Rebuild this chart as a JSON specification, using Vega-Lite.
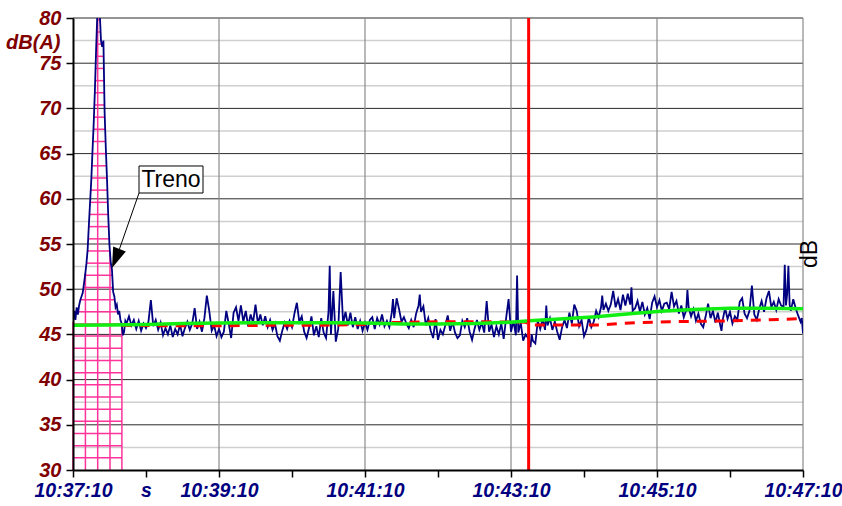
{
  "$schema": "https://vega.github.io/schema/vega-lite/v6.json",
  "width": 730,
  "height": 452,
  "autosize": {"type": "none"},
  "padding": {"left": 73, "top": 18, "right": 39, "bottom": 36},
  "background": "white",
  "config": {"view": {"stroke": null}, "font": "Liberation Sans"},
  "datasets": {
    "minor": [{"v":32.5},{"v":37.5},{"v":42.5},{"v":47.5},{"v":52.5},{"v":57.5},{"v":62.5},{"v":67.5},{"v":72.5},{"v":77.5}],
    "major": [{"v":35},{"v":40},{"v":45},{"v":50},{"v":55},{"v":60},{"v":65},{"v":70},{"v":75},{"v":80}],
    "vgrid": [{"t":120},{"t":240},{"t":360},{"t":480},{"t":600}],
    "pinkv": [{"t":0,"v0":30,"v1":46.4},{"t":10.2,"v0":30,"v1":51.8},{"t":20.3,"v0":30,"v1":80},{"t":30.4,"v0":30,"v1":54.1},{"t":40.2,"v0":30,"v1":46.0}],
    "pinkh": [
      {"v":31.35,"t0":0,"t1":40.2},{"v":32.69,"t0":0,"t1":40.2},{"v":34.04,"t0":0,"t1":40.2},{"v":35.38,"t0":0,"t1":40.2},
      {"v":36.73,"t0":0,"t1":40.2},{"v":38.08,"t0":0,"t1":40.2},{"v":39.42,"t0":0,"t1":40.2},{"v":40.77,"t0":0,"t1":40.2},
      {"v":42.11,"t0":0,"t1":40.2},{"v":43.46,"t0":0,"t1":40.2},{"v":44.81,"t0":0,"t1":40.2},{"v":46.15,"t0":0,"t1":40.2},
      {"v":47.5,"t0":0.9,"t1":38.1},{"v":48.84,"t0":6.1,"t1":34.3},{"v":50.19,"t0":8.6,"t1":32.8},{"v":51.54,"t0":9.94,"t1":32.26},
      {"v":52.88,"t0":11.05,"t1":31.15},{"v":54.23,"t0":11.95,"t1":30.32},{"v":55.57,"t0":12.47,"t1":29.76},{"v":56.92,"t0":12.97,"t1":29.34},
      {"v":58.27,"t0":13.51,"t1":28.93},{"v":59.61,"t0":14.04,"t1":28.6},{"v":60.96,"t0":14.58,"t1":28.26},{"v":62.3,"t0":15.09,"t1":27.91},
      {"v":63.65,"t0":15.52,"t1":27.53},{"v":65.0,"t0":15.94,"t1":27.14},{"v":66.34,"t0":16.37,"t1":26.79},{"v":67.69,"t0":16.8,"t1":26.45},
      {"v":69.03,"t0":17.2,"t1":26.12},{"v":70.38,"t0":17.56,"t1":25.89},{"v":71.73,"t0":17.93,"t1":25.72},{"v":73.07,"t0":18.24,"t1":25.55},
      {"v":74.42,"t0":18.54,"t1":25.39},{"v":75.76,"t0":18.84,"t1":25.22},{"v":77.11,"t0":19.15,"t1":25.05},{"v":78.45,"t0":19.49,"t1":22.68},
      {"v":79.8,"t0":19.83,"t1":22.23}
    ],
    "blue": [
      {"t":0,"v":46.4},{"t":1,"v":47.6},{"t":2,"v":46.6},{"t":3,"v":48.0},{"t":4,"v":47.2},{"t":5,"v":48.2},{"t":6,"v":48.8},{"t":7,"v":49.2},{"t":8,"v":49.6},{"t":9,"v":50.6},
      {"t":10,"v":51.6},{"t":11,"v":52.8},{"t":12,"v":54.3},{"t":13,"v":57.0},{"t":14,"v":59.5},{"t":15,"v":62.0},{"t":16,"v":65.2},{"t":17,"v":68.3},{"t":18,"v":72.0},{"t":19,"v":76.5},
      {"t":20,"v":80.5},{"t":21,"v":83.0},{"t":22,"v":80.5},{"t":23,"v":77.5},{"t":24,"v":76.8},{"t":25,"v":77.5},{"t":26,"v":69.5},{"t":27,"v":65.5},{"t":28,"v":62.0},{"t":29,"v":58.0},
      {"t":30,"v":54.8},{"t":31,"v":53.0},{"t":32,"v":52.2},{"t":33,"v":49.7},{"t":34,"v":49.2},{"t":35,"v":48.0},{"t":36,"v":48.3},{"t":37,"v":47.2},{"t":38,"v":47.6},{"t":39,"v":46.6},
      {"t":40,"v":46.2},{"t":41,"v":44.9},{"t":42,"v":45.3},{"t":43,"v":46.5},
      {"t":44,"v":46.2},{"t":46,"v":47.0},{"t":48,"v":46.0},{"t":50,"v":46.6},{"t":52,"v":45.6},{"t":54,"v":46.5},{"t":56,"v":45.4},{"t":58,"v":46.2},{"t":60,"v":45.7},{"t":62,"v":46.4},
      {"t":64,"v":48.8},{"t":66,"v":45.9},{"t":68,"v":46.6},{"t":70,"v":45.5},{"t":72,"v":46.3},{"t":74,"v":44.9},{"t":76,"v":45.7},{"t":78,"v":45.0},{"t":80,"v":46.0},{"t":82,"v":44.7},
      {"t":84,"v":45.6},{"t":86,"v":45.0},{"t":88,"v":46.1},{"t":90,"v":44.8},{"t":92,"v":45.7},{"t":94,"v":46.4},{"t":96,"v":45.5},{"t":98,"v":46.2},{"t":100,"v":47.9},{"t":102,"v":45.6},
      {"t":104,"v":46.4},{"t":106,"v":45.3},{"t":108,"v":46.8},{"t":110,"v":49.3},{"t":112,"v":47.6},{"t":114,"v":45.4},{"t":116,"v":46.0},{"t":118,"v":44.8},{"t":120,"v":45.6},{"t":122,"v":44.7},
      {"t":124,"v":45.3},{"t":126,"v":47.6},{"t":128,"v":46.2},{"t":130,"v":44.6},{"t":132,"v":47.4},{"t":134,"v":48.0},{"t":136,"v":46.5},{"t":138,"v":48.2},{"t":140,"v":46.4},{"t":142,"v":47.6},
      {"t":144,"v":45.9},{"t":146,"v":47.2},{"t":148,"v":46.3},{"t":150,"v":48.3},{"t":152,"v":46.2},{"t":154,"v":47.2},{"t":156,"v":46.0},{"t":158,"v":47.0},{"t":160,"v":45.8},{"t":162,"v":46.6},
      {"t":164,"v":45.5},{"t":166,"v":46.2},{"t":168,"v":44.8},{"t":170,"v":44.3},{"t":172,"v":45.4},{"t":174,"v":46.3},{"t":176,"v":45.6},{"t":178,"v":46.5},{"t":180,"v":45.8},{"t":182,"v":47.3},
      {"t":184,"v":48.5},{"t":186,"v":46.4},{"t":188,"v":47.0},{"t":190,"v":45.3},{"t":192,"v":44.6},{"t":194,"v":45.7},{"t":196,"v":47.0},{"t":198,"v":44.9},{"t":200,"v":45.9},{"t":202,"v":44.7},
      {"t":204,"v":46.8},{"t":206,"v":45.2},{"t":208,"v":44.6},{"t":210,"v":47.5},{"t":211,"v":52.6},{"t":212,"v":45.0},{"t":214,"v":49.8},{"t":216,"v":44.2},{"t":218,"v":45.6},{"t":220,"v":51.9},
      {"t":222,"v":46.2},{"t":224,"v":47.5},{"t":226,"v":46.0},{"t":228,"v":47.4},{"t":230,"v":45.8},{"t":232,"v":46.9},{"t":234,"v":45.6},{"t":236,"v":46.5},{"t":238,"v":45.4},{"t":240,"v":46.3},
      {"t":242,"v":45.5},{"t":244,"v":46.6},{"t":246,"v":46.9},{"t":248,"v":45.6},{"t":250,"v":46.8},{"t":252,"v":46.1},{"t":254,"v":47.2},{"t":256,"v":45.9},{"t":258,"v":46.5},{"t":260,"v":45.8},
      {"t":262,"v":47.4},{"t":263,"v":48.9},{"t":264,"v":46.8},{"t":266,"v":49.0},{"t":268,"v":47.8},{"t":270,"v":46.4},{"t":272,"v":46.9},{"t":274,"v":46.2},{"t":276,"v":45.7},{"t":278,"v":46.6},
      {"t":280,"v":45.8},{"t":282,"v":47.3},{"t":284,"v":48.2},{"t":285,"v":49.4},{"t":286,"v":47.5},{"t":288,"v":48.1},{"t":290,"v":46.0},{"t":292,"v":46.8},{"t":294,"v":45.4},{"t":296,"v":44.6},
      {"t":298,"v":46.7},{"t":300,"v":44.4},{"t":302,"v":45.5},{"t":304,"v":45.0},{"t":306,"v":46.0},{"t":308,"v":47.1},{"t":310,"v":45.4},{"t":312,"v":46.4},{"t":314,"v":45.2},{"t":316,"v":44.6},
      {"t":318,"v":44.9},{"t":320,"v":46.5},{"t":322,"v":45.8},{"t":324,"v":46.8},{"t":326,"v":45.3},{"t":328,"v":44.4},{"t":330,"v":45.6},{"t":332,"v":46.6},{"t":334,"v":45.5},{"t":336,"v":46.3},
      {"t":338,"v":45.2},{"t":340,"v":48.7},{"t":342,"v":45.3},{"t":344,"v":46.1},{"t":346,"v":44.7},{"t":348,"v":45.9},{"t":350,"v":45.0},{"t":352,"v":46.2},{"t":354,"v":44.5},{"t":356,"v":46.8},
      {"t":358,"v":48.9},{"t":360,"v":45.3},{"t":362,"v":46.5},{"t":364,"v":44.9},{"t":365,"v":51.5},{"t":366,"v":45.2},{"t":368,"v":46.3},{"t":370,"v":44.3},{"t":372,"v":45.0},{"t":374,"v":44.6},
      {"t":376,"v":43.6},{"t":377,"v":45.0},{"t":378,"v":44.3},{"t":380,"v":44.0},{"t":382,"v":46.5},{"t":384,"v":45.6},{"t":386,"v":46.7},{"t":388,"v":45.5},{"t":389,"v":48.2},{"t":390,"v":46.0},
      {"t":392,"v":46.8},{"t":394,"v":45.5},{"t":396,"v":46.4},{"t":398,"v":45.3},{"t":400,"v":44.4},{"t":402,"v":45.8},{"t":404,"v":46.6},{"t":406,"v":45.7},{"t":408,"v":47.4},{"t":410,"v":46.2},
      {"t":412,"v":48.3},{"t":414,"v":47.6},{"t":416,"v":45.9},{"t":418,"v":46.6},{"t":420,"v":44.8},{"t":422,"v":45.5},{"t":424,"v":46.9},{"t":426,"v":45.8},{"t":428,"v":46.4},{"t":430,"v":47.6},
      {"t":432,"v":46.9},{"t":434,"v":48.0},{"t":435,"v":49.3},{"t":436,"v":47.7},{"t":438,"v":48.4},{"t":440,"v":47.6},{"t":442,"v":48.3},{"t":444,"v":49.8},{"t":446,"v":48.0},{"t":448,"v":48.9},
      {"t":450,"v":47.7},{"t":452,"v":49.4},{"t":454,"v":48.2},{"t":456,"v":49.5},{"t":458,"v":48.3},{"t":459,"v":50.2},{"t":460,"v":47.6},{"t":462,"v":47.9},{"t":464,"v":48.7},{"t":466,"v":47.5},
      {"t":468,"v":48.6},{"t":470,"v":47.2},{"t":472,"v":47.9},{"t":474,"v":46.7},{"t":476,"v":48.5},{"t":478,"v":49.2},{"t":480,"v":48.0},{"t":482,"v":48.8},{"t":484,"v":47.6},{"t":486,"v":48.4},
      {"t":488,"v":48.5},{"t":490,"v":47.8},{"t":492,"v":49.7},{"t":494,"v":48.1},{"t":496,"v":48.7},{"t":498,"v":47.3},{"t":500,"v":48.2},{"t":502,"v":46.9},{"t":504,"v":47.7},{"t":505,"v":49.9},
      {"t":506,"v":48.0},{"t":508,"v":47.0},{"t":510,"v":47.8},{"t":512,"v":46.5},{"t":514,"v":47.3},{"t":516,"v":46.2},{"t":518,"v":45.8},{"t":520,"v":47.0},{"t":522,"v":48.4},{"t":524,"v":46.8},
      {"t":526,"v":47.6},{"t":528,"v":46.3},{"t":530,"v":47.4},{"t":532,"v":46.0},{"t":533,"v":45.4},{"t":534,"v":46.6},{"t":536,"v":47.9},{"t":538,"v":46.7},{"t":540,"v":47.5},{"t":542,"v":46.2},
      {"t":544,"v":47.0},{"t":546,"v":46.6},{"t":548,"v":48.6},{"t":550,"v":49.0},{"t":552,"v":47.3},{"t":554,"v":46.8},{"t":556,"v":47.6},{"t":558,"v":50.4},{"t":560,"v":47.2},{"t":562,"v":46.6},
      {"t":564,"v":47.8},{"t":566,"v":48.7},{"t":568,"v":47.5},{"t":570,"v":49.0},{"t":572,"v":49.8},{"t":574,"v":48.0},{"t":576,"v":48.6},{"t":578,"v":47.7},{"t":580,"v":48.9},{"t":582,"v":48.2},
      {"t":584,"v":48.0},{"t":585,"v":52.7},{"t":586,"v":48.2},{"t":587,"v":49.5},{"t":588,"v":52.6},{"t":589,"v":48.3},{"t":590,"v":47.6},{"t":592,"v":48.9},{"t":594,"v":47.9},{"t":596,"v":47.1},
      {"t":598,"v":46.4},{"t":599,"v":46.8},{"t":600,"v":45.1}
    ],
    "green": [
      {"t":0,"v":46.0},{"t":30,"v":46.05},{"t":60,"v":46.1},{"t":90,"v":46.2},{"t":120,"v":46.25},{"t":150,"v":46.3},{"t":180,"v":46.3},{"t":210,"v":46.3},{"t":240,"v":46.25},{"t":270,"v":46.15},
      {"t":300,"v":46.15},{"t":330,"v":46.2},{"t":360,"v":46.35},{"t":375,"v":46.5},{"t":400,"v":46.7},{"t":430,"v":46.95},{"t":460,"v":47.3},{"t":486,"v":47.6},{"t":510,"v":47.75},{"t":540,"v":47.9},
      {"t":570,"v":47.9},{"t":600,"v":47.85}
    ],
    "red": [
      {"t":40,"v":46.0},{"t":80,"v":45.95},{"t":120,"v":45.95},{"t":160,"v":46.0},{"t":200,"v":46.0},{"t":240,"v":46.1},{"t":260,"v":46.3},{"t":300,"v":46.4},{"t":340,"v":46.4},{"t":372,"v":46.35},
      {"t":376,"v":46.05},{"t":400,"v":46.04},{"t":435,"v":46.05},{"t":450,"v":46.2},{"t":465,"v":46.3},{"t":490,"v":46.4},{"t":540,"v":46.5},{"t":570,"v":46.6},{"t":600,"v":46.75}
    ],
    "marker": [{"t":374.5}],
    "arrow": [{"t":54.25,"v":60.64},{"t":38.2,"v":54.45}],
    "head": [{"t":35.14,"v":53.4}],
    "box": [{"t0":54.25,"t1":106.85,"v0":60.64,"v1":63.63}],
    "boxtext": [{"t":80.55,"v":62.13,"label":"Treno"}],
    "unit": [{"t":600,"v":53.9,"label":"dB"}]
  },
  "layer": [
    {
      "data": {"name": "minor"},
      "mark": {"type": "rule", "color": "#cfcfcf", "strokeWidth": 1.5},
      "encoding": {"y": {"field": "v", "type": "quantitative"}}
    },
    {
      "data": {"name": "major"},
      "mark": {"type": "rule", "color": "#2a2a2a", "strokeWidth": 1},
      "encoding": {"y": {"field": "v", "type": "quantitative"}}
    },
    {
      "data": {"name": "vgrid"},
      "mark": {"type": "rule", "color": "#8a8a8a", "strokeWidth": 1.2},
      "encoding": {"x": {"field": "t", "type": "quantitative"}}
    },
    {
      "data": {"name": "pinkv"},
      "mark": {"type": "rule", "color": "#ff3399", "strokeWidth": 1.5},
      "encoding": {
        "x": {"field": "t", "type": "quantitative"},
        "y": {"field": "v0", "type": "quantitative"},
        "y2": {"field": "v1"}
      }
    },
    {
      "data": {"name": "pinkh"},
      "mark": {"type": "rule", "color": "#ff3399", "strokeWidth": 1.5},
      "encoding": {
        "x": {"field": "t0", "type": "quantitative"},
        "x2": {"field": "t1"},
        "y": {"field": "v", "type": "quantitative"}
      }
    },
    {
      "data": {"name": "blue"},
      "mark": {"type": "line", "color": "#000080", "strokeWidth": 1.8, "clip": true},
      "encoding": {
        "x": {
          "field": "t", "type": "quantitative",
          "scale": {"domain": [0, 600], "nice": false, "zero": false},
          "axis": {
            "values": [0,30,60,90,120,150,180,210,240,270,300,330,360,390,420,450,480,510,540,570,600],
            "labelExpr": "datum.value == 0 ? '10:37:10' : datum.value == 60 ? 's' : datum.value == 120 ? '10:39:10' : datum.value == 240 ? '10:41:10' : datum.value == 360 ? '10:43:10' : datum.value == 480 ? '10:45:10' : datum.value == 600 ? '10:47:10' : ''",
            "title": null, "grid": false, "zindex": 5,
            "domainColor": "#000000", "domainWidth": 2,
            "tickColor": "#000000", "tickWidth": 1.5, "tickSize": 7,
            "labelFont": "Liberation Sans", "labelFontSize": 19.5, "labelFontWeight": "bold", "labelFontStyle": "italic",
            "labelColor": "#000080", "labelPadding": 4, "labelOverlap": false, "labelFlush": false, "labelBound": false
          }
        },
        "y": {
          "field": "v", "type": "quantitative",
          "scale": {"domain": [30, 80], "nice": false, "zero": false},
          "axis": {
            "values": [30,32.5,35,37.5,40,42.5,45,47.5,50,52.5,55,57.5,60,62.5,65,67.5,70,72.5,75,77.5,80],
            "labelExpr": "datum.value % 5 == 0 ? datum.value : ''",
            "title": "dB(A)", "titleAngle": 0, "titleAlign": "right", "titleBaseline": "middle",
            "titleX": -13, "titleY": 24.5,
            "titleFont": "Liberation Sans", "titleFontSize": 20, "titleFontWeight": "bold", "titleFontStyle": "italic", "titleColor": "#800000",
            "grid": false, "zindex": 5,
            "domainColor": "#000000", "domainWidth": 2,
            "tickColor": "#000000", "tickWidth": 1.5, "tickSize": 7,
            "labelFont": "Liberation Sans", "labelFontSize": 20, "labelFontWeight": "bold", "labelFontStyle": "italic",
            "labelColor": "#800000", "labelPadding": 5, "labelOverlap": false, "labelBound": false
          }
        }
      }
    },
    {
      "data": {"name": "red"},
      "mark": {"type": "line", "color": "#ff0000", "strokeWidth": 3, "strokeDash": [10, 8]},
      "encoding": {
        "x": {"field": "t", "type": "quantitative"},
        "y": {"field": "v", "type": "quantitative"}
      }
    },
    {
      "data": {"name": "green"},
      "mark": {"type": "line", "color": "#11ee11", "strokeWidth": 3.5},
      "encoding": {
        "x": {"field": "t", "type": "quantitative"},
        "y": {"field": "v", "type": "quantitative"}
      }
    },
    {
      "data": {"name": "marker"},
      "mark": {"type": "rule", "color": "#ff0000", "strokeWidth": 3},
      "encoding": {"x": {"field": "t", "type": "quantitative"}}
    },
    {
      "data": {"name": "arrow"},
      "mark": {"type": "line", "color": "#000000", "strokeWidth": 1},
      "encoding": {
        "x": {"field": "t", "type": "quantitative"},
        "y": {"field": "v", "type": "quantitative"}
      }
    },
    {
      "data": {"name": "head"},
      "mark": {"type": "point", "shape": "M0,1L-0.67,-1L0.67,-1Z", "size": 416, "angle": 21.5, "filled": true, "color": "#000000", "opacity": 1},
      "encoding": {
        "x": {"field": "t", "type": "quantitative"},
        "y": {"field": "v", "type": "quantitative"}
      }
    },
    {
      "data": {"name": "box"},
      "mark": {"type": "rect", "fill": "#ffffff", "stroke": "#000000", "strokeWidth": 1},
      "encoding": {
        "x": {"field": "t0", "type": "quantitative"},
        "x2": {"field": "t1"},
        "y": {"field": "v0", "type": "quantitative"},
        "y2": {"field": "v1"}
      }
    },
    {
      "data": {"name": "boxtext"},
      "mark": {"type": "text", "font": "Liberation Sans", "fontSize": 23, "color": "#000000", "align": "center", "baseline": "middle"},
      "encoding": {
        "x": {"field": "t", "type": "quantitative"},
        "y": {"field": "v", "type": "quantitative"},
        "text": {"field": "label"}
      }
    },
    {
      "data": {"name": "unit"},
      "mark": {"type": "text", "font": "Liberation Sans", "fontSize": 23, "color": "#000000", "align": "center", "baseline": "alphabetic", "angle": 270, "dy": 13.5},
      "encoding": {
        "x": {"field": "t", "type": "quantitative"},
        "y": {"field": "v", "type": "quantitative"},
        "text": {"field": "label"}
      }
    }
  ]
}
